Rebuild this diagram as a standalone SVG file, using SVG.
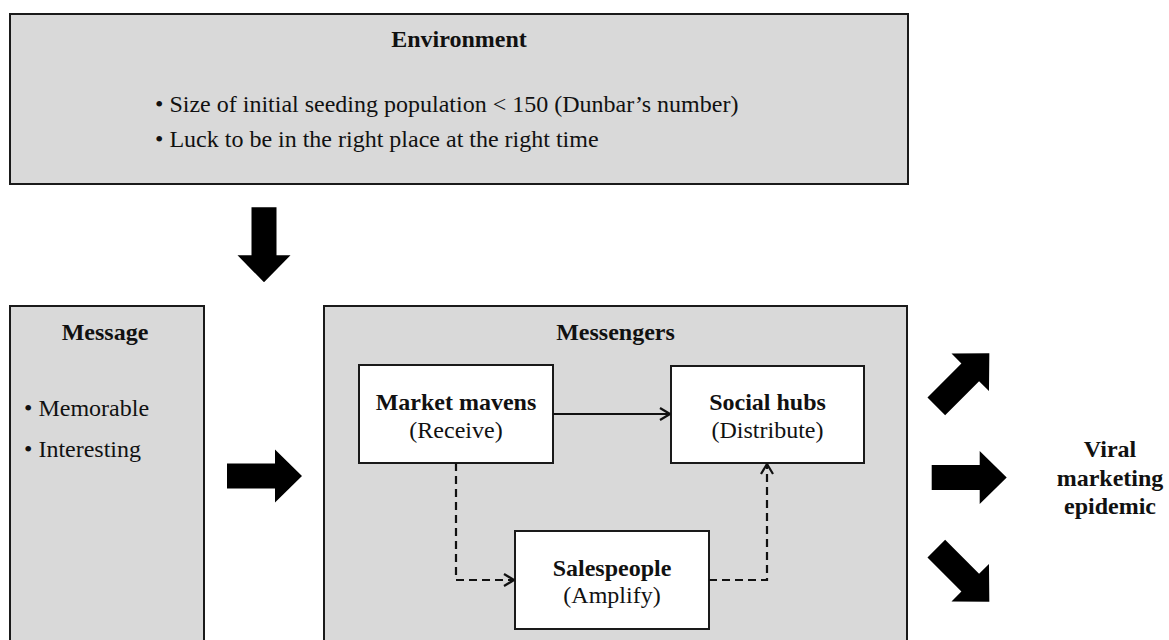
<svg xmlns="http://www.w3.org/2000/svg" width="1169" height="640" viewBox="0 0 1169 640">
<style>
.panel{fill:#d9d9d9;stroke:#1a1a1a;stroke-width:2}
.box{fill:#ffffff;stroke:#1a1a1a;stroke-width:2}
.t{font-family:"Liberation Serif","Times New Roman",serif;font-size:24px;fill:#111}
.b{font-weight:bold}
.c{text-anchor:middle}
.big{fill:#000}
.solid{fill:none;stroke:#111;stroke-width:2}
.dash{fill:none;stroke:#111;stroke-width:2.2;stroke-dasharray:8 5}
</style>
<defs>
<path id="blk" d="M0,-12.5 H48 V-26.5 L75,0 L48,26.5 V12.5 H0 Z"/>
<marker id="chev" viewBox="0 0 12 14" refX="11" refY="7" markerWidth="12" markerHeight="14" markerUnits="userSpaceOnUse" orient="auto">
<path d="M1,1 L11,7 L1,13" fill="none" stroke="#111" stroke-width="2.2"/>
</marker>
</defs>
<g id="environment">
<rect class="panel" x="10" y="14" width="898" height="170"/>
<text class="t b c" x="459" y="47">Environment</text>
<text class="t" x="155" y="112">• Size of initial seeding population &lt; 150 (Dunbar’s number)</text>
<text class="t" x="155" y="147">• Luck to be in the right place at the right time</text>
</g>
<g id="message">
<rect class="panel" x="10" y="306" width="194" height="345"/>
<text class="t b c" x="105" y="340">Message</text>
<text class="t" x="24" y="416">• Memorable</text>
<text class="t" x="24" y="457">• Interesting</text>
</g>
<g id="messengers">
<rect class="panel" x="324" y="306" width="583" height="345"/>
<text class="t b c" x="615.5" y="340">Messengers</text>
</g>
<g id="market-mavens">
<rect class="box" x="359" y="365" width="194" height="98"/>
<text class="t b c" x="456" y="410">Market mavens</text>
<text class="t c" x="456" y="438">(Receive)</text>
</g>
<g id="social-hubs">
<rect class="box" x="671" y="366" width="193" height="97"/>
<text class="t b c" x="767.5" y="410">Social hubs</text>
<text class="t c" x="767.5" y="438">(Distribute)</text>
</g>
<g id="salespeople">
<rect class="box" x="515" y="531" width="194" height="98"/>
<text class="t b c" x="612" y="576">Salespeople</text>
<text class="t c" x="612" y="603">(Amplify)</text>
</g>
<g id="viral">
<text class="t b c" x="1110" y="457">Viral</text>
<text class="t b c" x="1110" y="486">marketing</text>
<text class="t b c" x="1110" y="514">epidemic</text>
</g>
<g id="connectors">
<path class="solid" d="M553,414 H670" marker-end="url(#chev)"/>
<path class="dash" d="M456,463 V580 H514" marker-end="url(#chev)"/>
<path class="dash" d="M709,580 H767 V464" marker-end="url(#chev)"/>
<use href="#blk" class="big" transform="translate(264,207.3) rotate(90)"/>
<use href="#blk" class="big" transform="translate(227,476)"/>
<use href="#blk" class="big" transform="translate(931.7,477.5)"/>
<use href="#blk" class="big" transform="translate(936.3,406.3) rotate(-45)"/>
<use href="#blk" class="big" transform="translate(936.3,548.7) rotate(45)"/>
</g>
</svg>
